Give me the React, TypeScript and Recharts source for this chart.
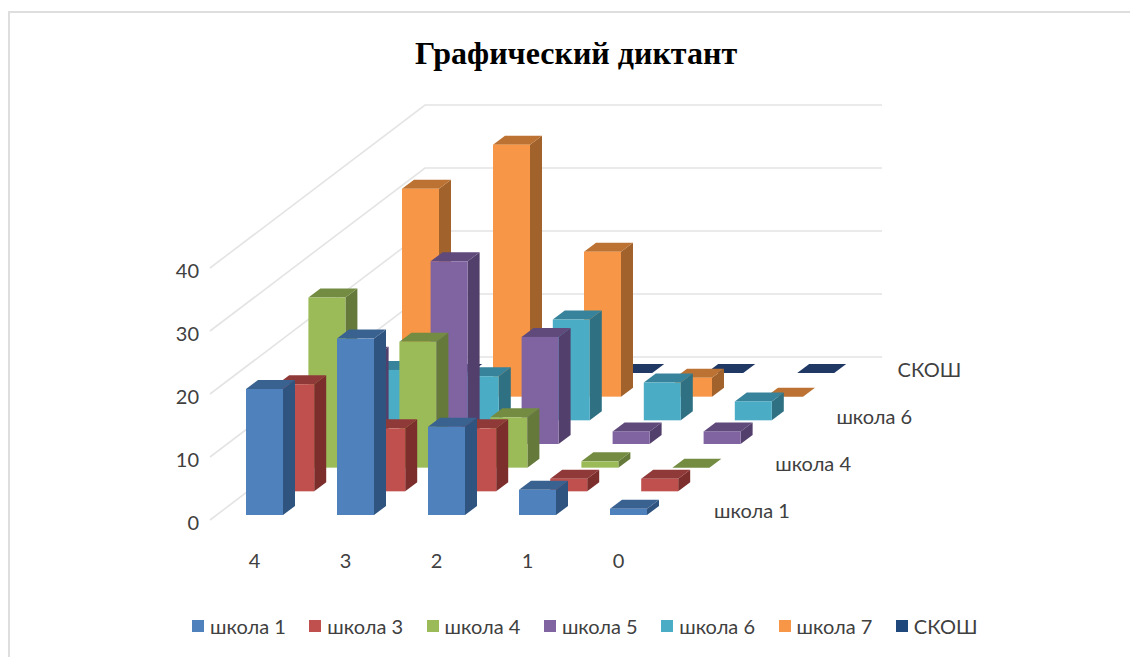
import { BarChart, Bar, XAxis, YAxis, CartesianGrid, Legend } from "recharts";

const categories = ["4", "3", "2", "1", "0"];
const seriesNames = ["школа 1", "школа 3", "школа 4", "школа 5", "школа 6", "школа 7", "СКОШ"];

const school1 = [20, 28, 14, 4, 1];
const school3 = [17, 10, 10, 2, 2];
const school4 = [27, 20, 8, 1, 0];
const school5 = [14, 29, 17, 2, 2];
const school6 = [8, 7, 16, 6, 3];
const school7 = [33, 40, 23, 3, 0];
const skosh = [0, 0, 0, 0, 0];
const seriesValues = [school1, school3, school4, school5, school6, school7, skosh];

const yTicks = [0, 10, 20, 30, 40];
const depthLabels = [
  { row: 0, name: "школа 1" },
  { row: 2, name: "школа 4" },
  { row: 4, name: "школа 6" },
  { row: 6, name: "СКОШ" },
];

// front, top, side
const palette = [
  ["#4F81BD", "#3A6291", "#2F5480"],
  ["#C0504D", "#8F3A38", "#7B2E2C"],
  ["#9BBB59", "#738C42", "#657A3A"],
  ["#8064A2", "#5F4A7B", "#533F6B"],
  ["#4BACC6", "#37839B", "#2F7183"],
  ["#F79646", "#BC7232", "#A1622B"],
  ["#1F497D", "#1F3864", "#1F3864"],
];

const tableData = categories.map((c, i) => {
  const row: Record<string, string | number> = { category: c };
  seriesNames.forEach((s, j) => {
    row[s] = seriesValues[j][i];
  });
  return row;
});

const WIDTH = 1130;
const HEIGHT = 657;
const BAR = 37;
const FONT = "Lato, 'Open Sans', sans-serif";
const TEXT = "#404040";

// oblique depth of the floor
const WALL_DX = 215;
const WALL_DY = 163;
const ROW_DX = 31.2;
const ROW_DY = 23.67;
const BOX_DX = 12;
const BOX_DY = 9;

function boxShape(row: number) {
  const [front, top, side] = palette[row];
  const ox = 9 + row * ROW_DX;
  const oy = 5 + row * ROW_DY;
  return (props: any) => {
    const x = props.x + ox;
    const y = props.y - oy;
    const w = props.width;
    const h = props.height;
    return (
      <g>
        <polygon
          points={`${x + w},${y} ${x + w + BOX_DX},${y - BOX_DY} ${x + w + BOX_DX},${y + h - BOX_DY} ${x + w},${y + h}`}
          fill={side}
        />
        <polygon
          points={`${x},${y} ${x + BOX_DX},${y - BOX_DY} ${x + w + BOX_DX},${y - BOX_DY} ${x + w},${y}`}
          fill={top}
        />
        <rect x={x} y={y} width={w} height={h} fill={front} />
      </g>
    );
  };
}

function wallLine(props: any) {
  const { x1, x2, y1, key } = props;
  return (
    <polyline
      key={key}
      points={`${x1},${y1} ${x1 + WALL_DX},${y1 - WALL_DY} ${x2 + WALL_DX + 2},${y1 - WALL_DY}`}
      fill="none"
      stroke="#E4E4E4"
      strokeWidth={1.6}
    />
  );
}

function LegendRow() {
  return (
    <div style={{ position: "relative", height: 24, fontFamily: FONT, fontSize: 20, color: TEXT }}>
      {seriesNames.map((s, i) => (
        <div
          key={s}
          style={{ position: "absolute", left: 192 + i * 117.3, top: 0, display: "flex", alignItems: "center", height: 24 }}
        >
          <span style={{ width: 12, height: 12, background: palette[i][0], marginRight: 6 }} />
          <span>{s}</span>
        </div>
      ))}
    </div>
  );
}

export default function App() {
  const drawOrder = seriesNames.map((_, i) => i).reverse();
  return (
    <div style={{ position: "absolute", left: 0, top: 0, width: WIDTH, height: HEIGHT, background: "#fff", overflow: "hidden" }}>
      <div style={{ position: "absolute", left: 8, top: 11, right: -2, bottom: -2, borderTop: "2px solid #DEDEDE", borderLeft: "2px solid #DEDEDE" }} />
      <div
        style={{
          position: "absolute",
          left: 0,
          top: 35,
          width: 1152,
          textAlign: "center",
          fontFamily: "'Liberation Serif', serif",
          fontWeight: "bold",
          fontSize: 32,
          color: "#000",
        }}
      >
        Графический диктант
      </div>
      <BarChart
        width={WIDTH}
        height={HEIGHT}
        data={tableData}
        margin={{ top: 268, right: 465, bottom: 83, left: 170 }}
        barSize={BAR}
        barGap={-BAR}
        style={{ position: "absolute", left: 0, top: 0 }}
      >
        <CartesianGrid horizontal={wallLine} vertical={false} />
        <XAxis
          dataKey="category"
          height={30}
          axisLine={false}
          tickLine={false}
          tickMargin={28}
          tick={{ fill: TEXT, fontSize: 20, fontFamily: FONT, dx: -1 }}
        />
        <YAxis
          width={40}
          domain={[0, 40]}
          ticks={yTicks}
          axisLine={false}
          tickLine={false}
          tickMargin={5}
          tick={{ fill: TEXT, fontSize: 20, fontFamily: FONT, dy: 3 }}
        />
        {drawOrder.map((i) => (
          <Bar
            key={seriesNames[i]}
            dataKey={seriesNames[i]}
            fill={palette[i][0]}
            shape={boxShape(i)}
            isAnimationActive={false}
          />
        ))}
        <Legend
          verticalAlign="bottom"
          content={<LegendRow />}
          wrapperStyle={{ left: 0, width: WIDTH, bottom: 19 }}
        />
      </BarChart>
      {depthLabels.map((d) => (
        <div
          key={d.name}
          style={{
            position: "absolute",
            left: 714 + d.row * 30.6,
            top: 498 - d.row * 23.5,
            fontFamily: FONT,
            fontSize: 20,
            lineHeight: "24px",
            color: TEXT,
          }}
        >
          {d.name}
        </div>
      ))}
    </div>
  );
}
